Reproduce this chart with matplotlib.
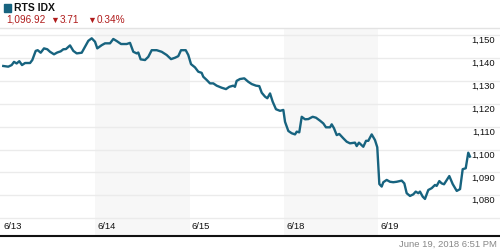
import matplotlib
matplotlib.use("Agg")
import matplotlib.pyplot as plt
from matplotlib.transforms import blended_transform_factory

# session time (trading days since 6/13 open) and index level
t = [0.024, 0.077, 0.113, 0.138, 0.166, 0.194, 0.223, 0.255, 0.308, 0.332,
     0.368, 0.389, 0.421, 0.456, 0.491, 0.520, 0.562, 0.597, 0.633, 0.661,
     0.689, 0.732, 0.767, 0.803, 0.856, 0.891, 0.926, 0.962, 0.997, 1.021,
     1.068, 1.103, 1.156, 1.191, 1.227, 1.273, 1.333, 1.368, 1.403, 1.439,
     1.456, 1.481, 1.527, 1.562, 1.598, 1.651, 1.704, 1.757, 1.803, 1.845,
     1.880, 1.909, 1.959, 1.986, 2.015, 2.057, 2.092, 2.128, 2.145, 2.181,
     2.216, 2.251, 2.287, 2.340, 2.386, 2.421, 2.463, 2.481, 2.499, 2.534,
     2.580, 2.622, 2.659, 2.704, 2.739, 2.765, 2.800, 2.824, 2.853, 2.881,
     2.916, 2.959, 2.994, 3.012, 3.047, 3.083, 3.118, 3.136, 3.163, 3.189,
     3.224, 3.259, 3.305, 3.340, 3.383, 3.418, 3.446, 3.489, 3.507, 3.531,
     3.560, 3.587, 3.630, 3.666, 3.701, 3.754, 3.772, 3.796, 3.842, 3.871,
     3.895, 3.931, 3.966, 3.990, 4.012, 4.037, 4.054, 4.090, 4.125, 4.160,
     4.196, 4.249, 4.277, 4.302, 4.337, 4.372, 4.398, 4.425, 4.443, 4.472,
     4.496, 4.531, 4.567, 4.602, 4.620, 4.648, 4.673, 4.698, 4.733, 4.754,
     4.790, 4.833, 4.868, 4.896, 4.928, 4.955, 4.973]
v = [1136.5, 1136.2, 1136.9, 1138.3, 1137.6, 1138.6, 1136.9, 1137.8, 1137.8, 1139.1,
     1143.1, 1143.4, 1142.3, 1144.2, 1143.8, 1142.7, 1141.6, 1142.4, 1142.9, 1143.8,
     1143.9, 1145.5, 1143.1, 1142.0, 1142.3, 1144.9, 1147.5, 1148.6, 1147.1, 1144.2,
     1145.6, 1146.4, 1146.4, 1148.3, 1147.4, 1146.1, 1146.1, 1146.6, 1142.7, 1142.0,
     1142.4, 1139.4, 1139.1, 1140.5, 1143.4, 1143.4, 1142.7, 1141.3, 1139.5, 1140.1,
     1140.8, 1143.4, 1143.4, 1141.3, 1137.3, 1135.9, 1134.0, 1133.5, 1131.8, 1130.4,
     1128.9, 1128.9, 1127.9, 1127.0, 1126.4, 1127.4, 1127.9, 1127.4, 1130.0, 1130.8,
     1131.1, 1129.6, 1128.6, 1127.9, 1127.7, 1124.8, 1123.1, 1122.4, 1124.5, 1120.9,
     1117.6, 1116.9, 1117.3, 1112.1, 1108.1, 1107.1, 1106.6, 1107.8, 1107.5, 1114.3,
     1113.2, 1113.3, 1114.3, 1113.9, 1112.6, 1111.4, 1109.7, 1109.7, 1111.0, 1109.3,
     1106.3, 1106.8, 1104.9, 1103.4, 1102.7, 1103.0, 1101.5, 1103.0, 1101.2, 1103.8,
     1103.8, 1106.6, 1104.1, 1101.0, 1084.9, 1083.8, 1085.7, 1086.7, 1085.9, 1085.7,
     1085.9, 1086.4, 1085.2, 1080.9, 1079.7, 1080.4, 1081.6, 1080.9, 1081.6, 1079.4,
     1078.4, 1082.3, 1083.1, 1084.5, 1084.1, 1086.2, 1085.2, 1084.8, 1087.0, 1088.4,
     1084.9, 1081.9, 1082.7, 1091.4, 1091.8, 1098.6, 1096.92]

day_labels = ["6/13", "6/14", "6/15", "6/18", "6/19"]
y_ticks = [1080, 1090, 1100, 1110, 1120, 1130, 1140, 1150]
grid_levels = [1070, 1080, 1090, 1100, 1110, 1120, 1130, 1140, 1150]

line_color = "#17637f"
red = "#b01c1c"
fonts = ["Liberation Sans", "DejaVu Sans"]

fig = plt.figure(figsize=(5, 2.5), dpi=100)
ax = fig.add_axes([0, 0.056, 1, 0.832])
ax.set_xlim(-0.0106, 5.2916)
ax.set_ylim(1062.2, 1153.1)
ax.axis("off")

# shaded alternating days
for d in (1, 3):
    ax.axvspan(d, d + 1, color="#f7f7f7", lw=0, zorder=0)

for g in grid_levels:
    ax.axhline(g, color="#ebebeb", lw=1, zorder=1)

ax.plot(t, v, color=line_color, lw=1.7, zorder=3, solid_joinstyle="round")

# right-hand value labels
tr = blended_transform_factory(fig.transFigure, ax.transData)
for yt in y_ticks:
    ax.text(495 / 500, yt - 2.4, f"{yt:,}", transform=tr, ha="right",
            va="center", fontsize=6.8, family=fonts, color="#111111")

# day labels
for i, lab in enumerate(day_labels):
    ax.text(i + 0.025, 1066.3, lab, ha="left", va="center", fontsize=6.8,
            family=fonts, color="#111111")

# header
fig.patches.append(plt.Rectangle((4 / 500, 1 - 11.5 / 250), 7 / 500, 7 / 250,
                                 transform=fig.transFigure, color=line_color))
fig.text(14 / 500, 1 - 8 / 250, "RTS IDX", fontsize=7.5, weight="bold",
         family=fonts, va="center", ha="left", color="#111111")
hdr = [(6, "1,096.92"), (50, "\u25bc"), (60, "3.71"), (87, "\u25bc"), (97, "0.34%")]
for x, s in hdr:
    fs = 6.5 if s == "\u25bc" else 7.2
    fig.text(x / 500, 1 - 20 / 250, s, fontsize=fs, family=fonts,
             va="center", ha="left", color=red)

fig.add_artist(plt.Line2D([0, 1], [1 - 28 / 250, 1 - 28 / 250],
                          transform=fig.transFigure, color="#e3e3e3", lw=1))
fig.add_artist(plt.Line2D([0, 1], [1 - 236 / 250, 1 - 236 / 250],
                          transform=fig.transFigure, color="#111111", lw=1.5))
fig.text(497 / 500, 1 - 244 / 250, "June 19, 2018 6:51 PM", fontsize=6.8,
         family=fonts, va="center", ha="right", color="#888888")

fig.savefig("out.png", dpi=100)
